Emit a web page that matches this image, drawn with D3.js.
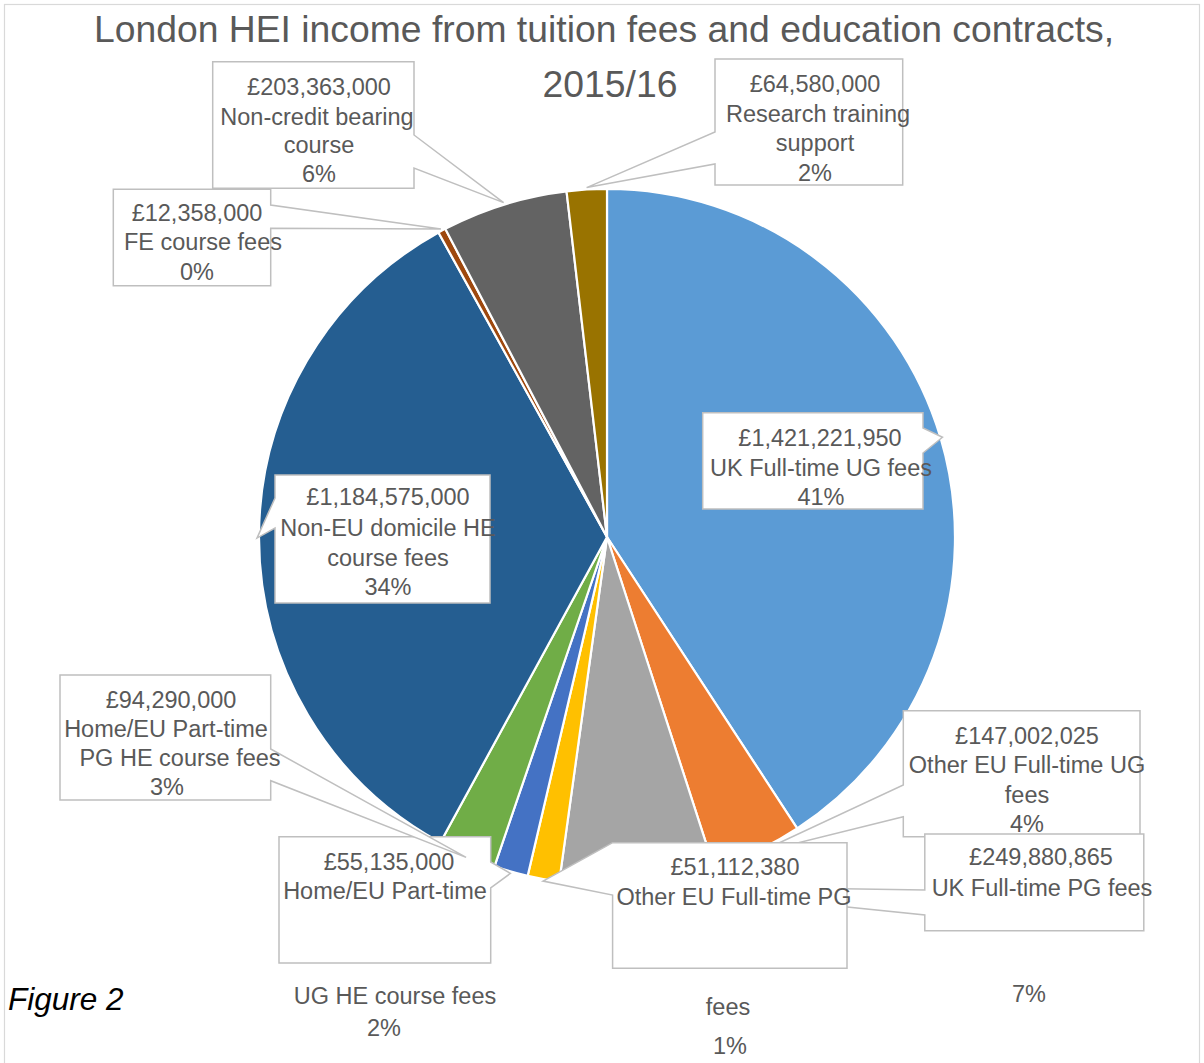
<!DOCTYPE html>
<html>
<head>
<meta charset="utf-8">
<script src="https://cdn.jsdelivr.net/npm/d3@7"></script>
<style>
  html, body { margin: 0; padding: 0; background: #fff; }
  svg { display: block; font-family: "Liberation Sans", Arial, sans-serif; }
</style>
</head>
<body>
<svg id="chart" width="1204" height="1063"></svg>
<script>
// ---------- data ----------
const titleLines = ["London HEI income from tuition fees and education contracts,", "2015/16"];
const categories = [
  "UK Full-time UG fees",
  "Other EU Full-time UG fees",
  "UK Full-time PG fees",
  "Other EU Full-time PG fees",
  "Home/EU Part-time UG HE course fees",
  "Home/EU Part-time PG HE course fees",
  "Non-EU domicile HE course fees",
  "FE course fees",
  "Non-credit bearing course",
  "Research training support"
];
const values = [1421221950, 147002025, 249880865, 51112380, 55135000, 94290000, 1184575000, 12358000, 203363000, 64580000];
// how each category name is wrapped in its data label
const nameLines = [
  ["UK Full-time UG fees"],
  ["Other EU Full-time UG", "fees"],
  ["UK Full-time PG fees"],
  ["Other EU Full-time PG", "fees"],
  ["Home/EU Part-time", "UG HE course fees"],
  ["Home/EU Part-time", "PG HE course fees"],
  ["Non-EU domicile HE", "course fees"],
  ["FE course fees"],
  ["Non-credit bearing", "course"],
  ["Research training", "support"]
];
const colors = ["#5B9BD5", "#ED7D31", "#A5A5A5", "#FFC000", "#4472C4", "#70AD47", "#255E91", "#9E480E", "#636363", "#997300"];
const figureLabel = "Figure 2";

// ---------- layout (positions of callout boxes and their text lines) ----------
const cx = 607, cy = 537, R = 348;
const labelLayout = [
  {i:0, box:[702.7,412.7,220.3,96.3], side:"right", a:428, b:453, x:[820,821,821], y:[438,468,497]},
  {i:6, box:[275,475,215,128], side:"left", a:498, b:528, x:[388,388,388,388], y:[497,528,558,587]},
  {i:9, box:[715,59,187.7,126], side:"left", a:132, b:164, x:[815,818,815,815], y:[84,113.5,143,172.5]},
  {i:7, box:[113.3,189.3,157.4,96.4], side:"right", a:205, b:228.3, x:[197,203,197], y:[212.3,241.7,271.7]},
  {i:8, box:[212.7,61.7,201.3,126.6], side:"right", a:135, b:168, x:[319,317,319,319], y:[87,116.5,145,173.5]},
  {i:4, box:[279,836.7,211.7,126.3], side:"right", a:862, b:888, x:[389,385,395,384], y:[862,891,996,1028]},
  {i:5, box:[60,675,210.7,125], side:"right", a:749, b:780.7, x:[171,166,180,167], y:[700,729,758,787]},
  {i:1, box:[903.3,710.7,236.7,126], side:"left", a:785, b:816.7, x:[1027,1027,1027,1027], y:[736,765,794.5,824]},
  {i:2, box:[924.8,834,219,96.7], side:"left", a:890, b:915, x:[1041,1042,1029], y:[857,887.5,994]},
  {i:3, box:[612.6,842.7,234.4,125.6], side:"left", a:842.7, b:895, x:[735,734,728,730], y:[867,897,1007,1046]}
];

// ---------- drawing ----------
const svg = d3.select("#chart");
const textColor = "#595959";
const lineColor = "#BFBFBF";
const fontSize = 23.5;

// outer chart area border
svg.append("rect")
  .attr("x", 4.5).attr("y", 4.5).attr("width", 1195).attr("height", 1080)
  .attr("fill", "#fff").attr("stroke", "#D9D9D9").attr("stroke-width", 1.2);

// title
const titleY = [42, 96.5], titleX = [604, 610];
svg.append("g").selectAll("text").data(titleLines).join("text")
  .attr("x", (d, k) => titleX[k]).attr("y", (d, k) => titleY[k])
  .attr("text-anchor", "middle").attr("fill", textColor)
  .style("font-size", "37.3px").text(d => d);

// pie
const total = d3.sum(values);
const pie = d3.pie().sort(null).value(d => d)(values);
const arc = d3.arc().innerRadius(0).outerRadius(R);
const pointerArc = d3.arc().innerRadius(350).outerRadius(350);

const g = svg.append("g").attr("transform", `translate(${cx},${cy})`);
g.selectAll("path").data(pie).join("path")
  .attr("d", arc)
  .attr("fill", (d, k) => colors[k])
  .attr("stroke", "#fff").attr("stroke-width", 2.2).attr("stroke-linejoin", "round");

// data labels (callouts)
const fmtMoney = v => "£" + d3.format(",")(v);
const fmtPct = d3.format(".0%");

function calloutPath(L, px, py) {
  const [x, y, w, h] = L.box;
  if (L.side === "right") {
    return `M${x},${y}H${x + w}V${L.a}L${px},${py}L${x + w},${L.b}V${y + h}H${x}Z`;
  }
  return `M${x},${y}H${x + w}V${y + h}H${x}V${L.b}L${px},${py}L${x},${L.a}Z`;
}

const labels = svg.append("g");
labelLayout.forEach(L => {
  const d = pie[L.i];
  const c = pointerArc.centroid(d);
  const px = cx + c[0], py = cy + c[1];
  const lines = [fmtMoney(values[L.i]), ...nameLines[L.i], fmtPct(values[L.i] / total)];
  const grp = labels.append("g");
  grp.append("path")
    .attr("d", calloutPath(L, px, py))
    .attr("fill", "#fff").attr("stroke", lineColor).attr("stroke-width", 1.5)
    .attr("stroke-linejoin", "miter");
  grp.selectAll("text").data(lines).join("text")
    .attr("x", (t, k) => L.x[k]).attr("y", (t, k) => L.y[k] + fontSize * 0.35)
    .attr("text-anchor", "middle").attr("fill", textColor)
    .style("font-size", fontSize + "px").text(t => t);
});

// figure caption
svg.append("text")
  .attr("x", 8).attr("y", 1010)
  .attr("fill", "#000").style("font-size", "31.5px").style("font-style", "italic")
  .text(figureLabel);
</script>
</body>
</html>
